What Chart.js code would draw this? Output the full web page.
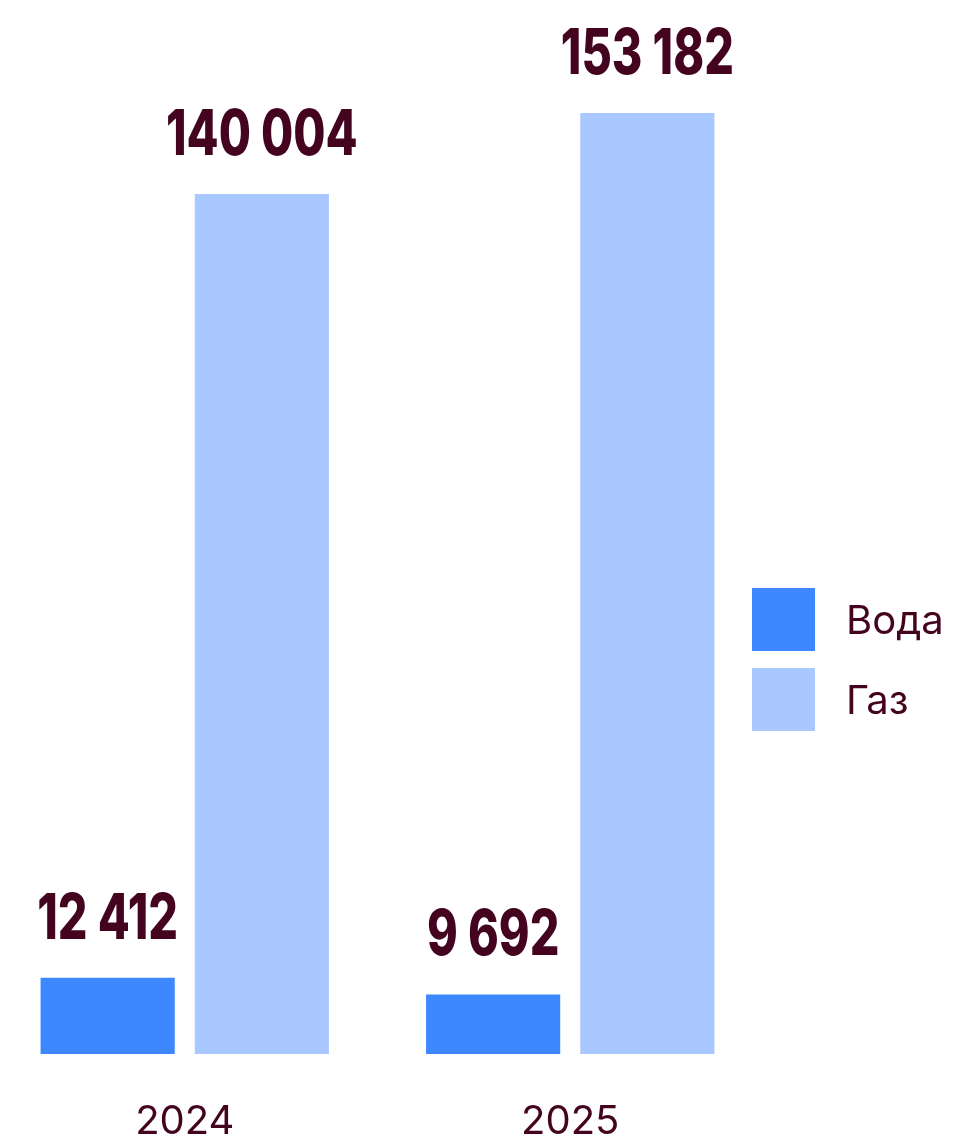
<!DOCTYPE html>
<html>
<head>
<meta charset="utf-8">
<script src="https://cdn.jsdelivr.net/npm/chart.js@4/dist/chart.umd.min.js"></script>
<style>
  html, body { margin: 0; padding: 0; background: #fff; }
  body { width: 953px; height: 1138px; position: relative; overflow: hidden; }
  #wrap { position: absolute; left: -8px; top: 0; width: 961px; height: 1190px; }
  #legend { position: absolute; left: 752px; top: 588px; font-family: Inter, sans-serif; color: #44041f; }
  .item { display: flex; align-items: center; height: 63px; margin-bottom: 17px; }
  .box { width: 63px; height: 63px; margin-right: 31px; }
  .label { font-size: 40px; line-height: 1; }
</style>
</head>
<body>
<div id="wrap"><canvas id="chart"></canvas></div>
<div id="legend"></div>
<script>
const years = ['2024', '2025'];
const water = [12412, 9692];
const gas = [140004, 153182];
const seriesNames = ['Вода', 'Газ'];
const seriesColors = ['#3d87ff', '#a8c8ff'];
const textColor = '#44041f';

const fmt = (v) => String(v).replace(/\B(?=(\d{3})+(?!\d))/g, ' ');

// value labels above the bars (Inter squeezed to look condensed)
const valueLabels = {
  id: 'valueLabels',
  afterDatasetsDraw(chart) {
    const ctx = chart.ctx;
    chart.data.datasets.forEach((ds, i) => {
      chart.getDatasetMeta(i).data.forEach((bar, j) => {
        ctx.save();
        ctx.fillStyle = textColor;
        ctx.font = '800 63px Inter, sans-serif';
        ctx.textAlign = 'center';
        ctx.textBaseline = 'alphabetic';
        ctx.translate(bar.x, bar.y - 39);
        ctx.scale(0.74, 1);
        ctx.fillText(fmt(ds.data[j]), 0, 0);
        ctx.restore();
      });
    });
  }
};

new Chart(document.getElementById('chart'), {
  type: 'bar',
  data: {
    labels: years,
    datasets: [
      { label: seriesNames[0], data: water, backgroundColor: seriesColors[0] },
      { label: seriesNames[1], data: gas, backgroundColor: seriesColors[1] }
    ]
  },
  options: {
    responsive: true,
    maintainAspectRatio: false,
    animation: false,
    layout: { padding: { top: 113, right: 190, left: 0, bottom: 0 } },
    datasets: { bar: { categoryPercentage: 0.8, barPercentage: 0.87 } },
    plugins: { legend: { display: false }, tooltip: { enabled: false } },
    scales: {
      x: {
        grid: { display: false, drawTicks: false },
        border: { display: false },
        ticks: { color: textColor, font: { family: 'Inter', size: 40 }, padding: 44 }
      },
      y: {
        display: false,
        min: 0,
        max: Math.max(...water, ...gas)
      }
    }
  },
  plugins: [valueLabels]
});

// legend
const legend = document.getElementById('legend');
seriesNames.forEach((name, i) => {
  const item = document.createElement('div');
  item.className = 'item';
  item.innerHTML = `<div class="box" style="background:${seriesColors[i]}"></div><div class="label">${name}</div>`;
  legend.appendChild(item);
});
</script>
</body>
</html>
